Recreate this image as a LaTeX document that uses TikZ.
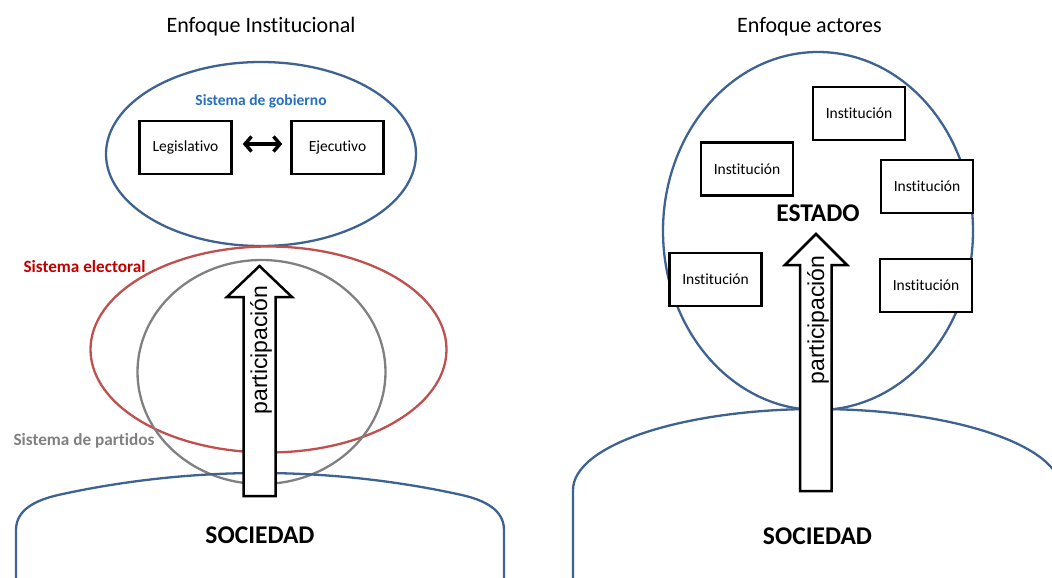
\documentclass[tikz,border=0pt]{standalone}
\usepackage{fontspec}
\setmainfont{Carlito}[Ligatures=NoCommon]
\newfontfamily\arialfont{Liberation Sans}
\usetikzlibrary{shapes.geometric,arrows.meta}
\definecolor{outlineblue}{RGB}{62,98,146}
\definecolor{electred}{RGB}{192,80,77}
\definecolor{electtext}{RGB}{192,0,0}
\definecolor{partgray}{RGB}{128,128,128}
\definecolor{partgraytext}{RGB}{128,128,128}
\definecolor{gobblue}{RGB}{40,110,190}
\tikzset{
  title/.style={font=\fontsize{22}{24}\selectfont, anchor=base},
  bigword/.style={font=\bfseries\fontsize{25.5}{27}\selectfont, anchor=base},
  sysname/.style={font=\bfseries\fontsize{15.5}{17}\selectfont, anchor=base},
  sysnamebig/.style={font=\bfseries\fontsize{17.2}{19}\selectfont, anchor=base west},
  instbox/.style={draw=black, line width=2.5pt, fill=white, minimum width=92pt,
    minimum height=53pt, inner sep=0pt, font=\fontsize{15.5}{17}\selectfont},
  ring/.style={ellipse, draw, line width=2.3pt, inner sep=0pt},
  society/.style={draw=outlineblue, line width=2.3pt},
  bigarrow/.style={draw=black, fill=white, line width=2.5pt, line join=miter},
  arrowword/.style={font=\arialfont\fontsize{23}{25}\selectfont, rotate=90, anchor=base},
  barb/.style={line width=3.4pt, {Straight Barb[length=6.5pt,width=15pt]}-{Straight Barb[length=6.5pt,width=15pt]}},
}
\begin{document}
\begin{tikzpicture}[x=1pt,y=-1pt]
\useasboundingbox (0,0) rectangle (1052,578);
\clip (0,0) rectangle (1052,578);

% ---------- Enfoque institucional ----------
\node[title] (t1) at (261,33) {Enfoque Institucional};

\node[ring, draw=outlineblue, minimum width=310pt, minimum height=184pt] (gob) at (261,154) {};
\node[sysname, text=gobblue] (gobname) at (261,106) {Sistema de gobierno};
\node[instbox] (leg) at (185.5,147.5) {Legislativo};
\node[instbox] (eje) at (337.5,147.5) {Ejecutivo};
\draw[barb] ([xshift=10pt,yshift=3.5pt]leg.east) -- ([xshift=-8pt,yshift=3.5pt]eje.west);

\node[ring, draw=electred, minimum width=356pt, minimum height=206pt] (elect) at (268.5,349.5) {};
\node[sysnamebig, text=electtext] (electname) at (20,272) {Sistema electoral};

\node[ring, draw=partgray, minimum width=248pt, minimum height=224pt] (part) at (261.5,372) {};
\node[sysnamebig, text=partgraytext] (partname) at (10,445) {Sistema de partidos};

% society, left
\draw[society] (16,580) -- (16,530) .. controls (16,510) and (35,500) .. (60,494.6)
  parabola bend (260,473) (460,494.6)
  .. controls (485,500) and (504,510) .. (504,530) -- (504,580);
\node[bigword] (soc1) at (260,543) {SOCIEDAD};

% participation arrow, left
\draw[bigarrow] (243.5,496) -- (243.5,297) -- (227,297) -- (259.5,266) -- (292,297)
  -- (275.5,297) -- (275.5,496) -- cycle;
\node[arrowword] (p1) at (267,350) {participación};

% ---------- Enfoque actores ----------
\node[title] (t2) at (809.5,33) {Enfoque actores};

\node[ring, draw=outlineblue, minimum width=310pt, minimum height=358pt] (estado) at (818,231) {};
\node[bigword] (estname) at (818,221) {ESTADO};

\node[instbox] (i1) at (859,113.5) {Institución};
\node[instbox] (i2) at (747,169) {Institución};
\node[instbox] (i3) at (927,186.5) {Institución};
\node[instbox] (i4) at (715.5,279.5) {Institución};
\node[instbox] (i5) at (926,285.5) {Institución};

% society, right
\draw[society] (573,580) -- (573,490) arc[start angle=180, end angle=360, x radius=244, y radius=81] -- (1061,580);
\node[bigword] (soc2) at (817.5,544) {SOCIEDAD};

% participation arrow, right
\draw[bigarrow] (800,491) -- (800,265) -- (785,265) -- (816,234) -- (847,265)
  -- (831.5,265) -- (831.5,491) -- cycle;
\node[arrowword] (p2) at (824,320) {participación};
\end{tikzpicture}
\end{document}
